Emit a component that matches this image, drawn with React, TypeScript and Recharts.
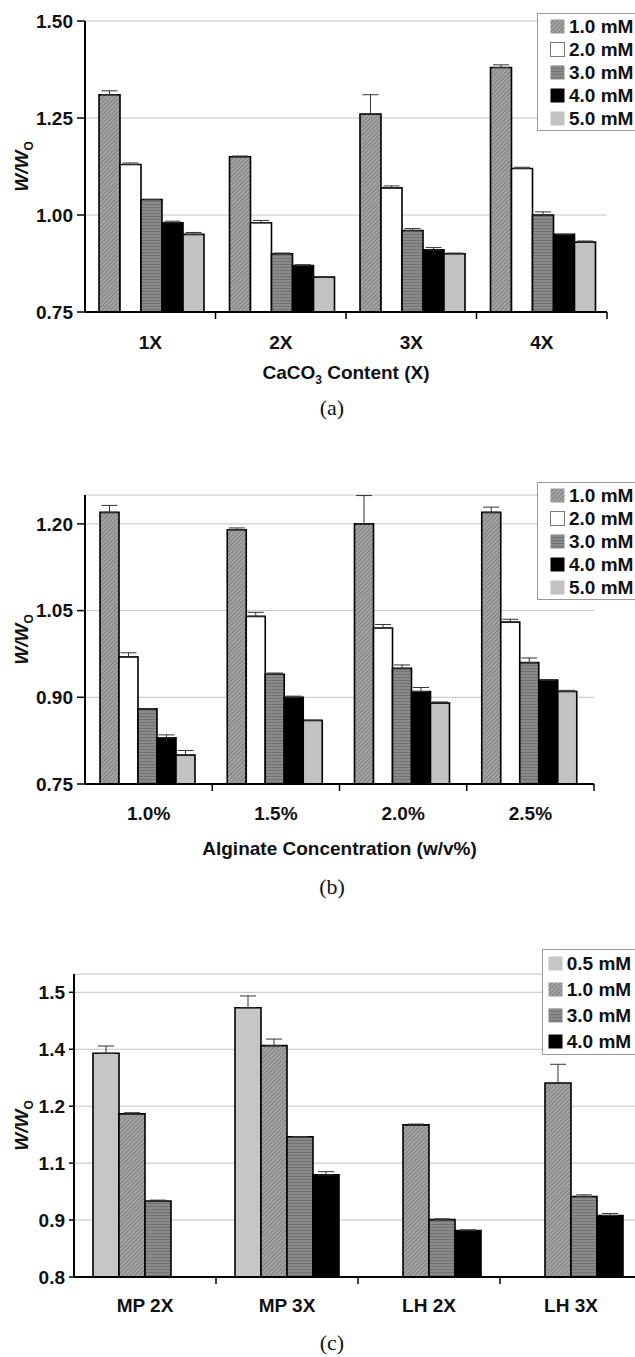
import React from "react";
import { BarChart, Bar, XAxis, YAxis, CartesianGrid, ErrorBar, Legend, Label } from "recharts";

const SANS = "Arial, 'Liberation Sans', Helvetica, sans-serif";
const SERIF = "'Times New Roman', 'Liberation Serif', Times, serif";

// ---- panel (a): CaCO3 content
const catsA = ["1X", "2X", "3X", "4X"];
const a10 = [1.31, 1.15, 1.26, 1.38];
const a10Err = [0.01, 0.002, 0.05, 0.007];
const a20 = [1.13, 0.98, 1.07, 1.12];
const a20Err = [0.004, 0.006, 0.005, 0.003];
const a30 = [1.04, 0.9, 0.96, 1.0];
const a30Err = [0, 0.002, 0.005, 0.008];
const a40 = [0.98, 0.87, 0.91, 0.95];
const a40Err = [0.004, 0.002, 0.006, 0];
const a50 = [0.95, 0.84, 0.9, 0.93];
const a50Err = [0.005, 0, 0.002, 0.003];
const ticksA = [0.75, 1.0, 1.25, 1.5];

// ---- panel (b): alginate concentration
const catsB = ["1.0%", "1.5%", "2.0%", "2.5%"];
const b10 = [1.22, 1.19, 1.2, 1.22];
const b10Err = [0.012, 0.003, 0.049, 0.009];
const b20 = [0.97, 1.04, 1.02, 1.03];
const b20Err = [0.007, 0.007, 0.006, 0.005];
const b30 = [0.88, 0.94, 0.95, 0.96];
const b30Err = [0, 0.002, 0.006, 0.008];
const b40 = [0.83, 0.9, 0.91, 0.93];
const b40Err = [0.005, 0.002, 0.007, 0];
const b50 = [0.8, 0.86, 0.89, 0.91];
const b50Err = [0.008, 0, 0.002, 0.002];
const ticksB = [0.75, 0.9, 1.05, 1.2];

// ---- panel (c): alginate source
const catsC = ["MP 2X", "MP 3X", "LH 2X", "LH 3X"];
const c05 = [1.35, 1.462, null, null];
const c05Err = [0.018, 0.029, null, null];
const c10 = [1.201, 1.369, 1.174, 1.277];
const c10Err = [0.003, 0.016, 0.002, 0.046];
const c30 = [0.987, 1.145, 0.941, 0.998];
const c30Err = [0.002, 0, 0.002, 0.004];
const c40 = [null, 1.051, 0.914, 0.951];
const c40Err = [null, 0.008, 0.002, 0.005];
const ticksC = [0.8, 0.94, 1.08, 1.22, 1.36, 1.5];

type Series = {
  key: string;
  name: string;
  fill: string;
  values: (number | null)[];
  errs: (number | null)[];
};

const HATCH = "url(#hatch10)";
const STRIPE = "url(#stripe30)";

const seriesA: Series[] = [
  { key: "s10", name: "1.0 mM", fill: HATCH, values: a10, errs: a10Err },
  { key: "s20", name: "2.0 mM", fill: "#ffffff", values: a20, errs: a20Err },
  { key: "s30", name: "3.0 mM", fill: STRIPE, values: a30, errs: a30Err },
  { key: "s40", name: "4.0 mM", fill: "#000000", values: a40, errs: a40Err },
  { key: "s50", name: "5.0 mM", fill: "#c2c2c2", values: a50, errs: a50Err },
];
const seriesB: Series[] = [
  { key: "s10", name: "1.0 mM", fill: HATCH, values: b10, errs: b10Err },
  { key: "s20", name: "2.0 mM", fill: "#ffffff", values: b20, errs: b20Err },
  { key: "s30", name: "3.0 mM", fill: STRIPE, values: b30, errs: b30Err },
  { key: "s40", name: "4.0 mM", fill: "#000000", values: b40, errs: b40Err },
  { key: "s50", name: "5.0 mM", fill: "#c2c2c2", values: b50, errs: b50Err },
];
const seriesC: Series[] = [
  { key: "s05", name: "0.5 mM", fill: "#c6c6c6", values: c05, errs: c05Err },
  { key: "s10", name: "1.0 mM", fill: HATCH, values: c10, errs: c10Err },
  { key: "s30", name: "3.0 mM", fill: STRIPE, values: c30, errs: c30Err },
  { key: "s40", name: "4.0 mM", fill: "#000000", values: c40, errs: c40Err },
];

function buildRows(cats: string[], series: Series[]) {
  return cats.map((c, i) => {
    const row: any = { cat: c };
    series.forEach((s) => {
      const v = s.values[i];
      row[s.key] = v;
      row[s.key + "Err"] = v == null ? null : [0, s.errs[i] ?? 0];
    });
    return row;
  });
}

function BoxLegend({ series, rowH, padLeft, padTop }: any) {
  return (
    <div
      style={{
        background: "#fff",
        border: "1px solid #9a9a9a",
        width: 110,
        paddingLeft: padLeft,
        paddingTop: padTop,
        boxSizing: "border-box",
        fontFamily: SANS,
      }}
    >
      {series.map((s: Series) => (
        <div key={s.key} style={{ display: "flex", alignItems: "center", height: rowH }}>
          <svg width={15} height={15} style={{ display: "block" }}>
            <rect x={0.5} y={0.5} width={14} height={14} fill={s.fill} stroke={s.fill === "#ffffff" ? "#777" : "none"} strokeWidth={1} />
          </svg>
          <span style={{ marginLeft: 4, fontSize: 19, fontWeight: 700, color: "#111", lineHeight: 1 }}>{s.name}</span>
        </div>
      ))}
    </div>
  );
}

type PanelProps = {
  top: number;
  width: number;
  height: number;
  margin: { top: number; right: number; left: number; bottom: number };
  yWidth: number;
  xHeight: number;
  cats: string[];
  series: Series[];
  ticks: number[];
  domain: [number, number];
  digits: number;
  gap: number;
  yTick: number;
  labelDy: number;
  title?: React.ReactNode;
  titleDy?: number;
  legend: { left: number; top: number; rowH: number; padLeft: number; padTop: number };
};

function Panel(p: PanelProps) {
  const rows = buildRows(p.cats, p.series);

  const CatTick = (props: any) => {
    const { x, y, payload } = props;
    const half = payload.offset ?? 0;
    return (
      <g>
        <line x1={x + half} x2={x + half} y1={y} y2={y + 7} stroke="#000" strokeWidth={1.5} />
        <text x={x} y={y + p.labelDy} dy="0.35em" textAnchor="middle" fontFamily={SANS} fontSize={19} fontWeight={700} fill="#111">
          {payload.value}
        </text>
      </g>
    );
  };

  const yLabel = (props: any) => {
    const vb = props.viewBox;
    const cy = vb.y + vb.height / 2;
    return (
      <text transform={`translate(28,${cy}) rotate(-90)`} textAnchor="middle" fontFamily={SANS} fontSize={19} fontWeight={700} fontStyle="italic" fill="#111">
        W/W
        <tspan fontSize={12} dy={5} fontStyle="normal">O</tspan>
      </text>
    );
  };

  const xTitle = (props: any) => {
    const vb = props.viewBox;
    return (
      <text x={vb.x + vb.width / 2} y={vb.y + (p.titleDy ?? 0)} dy="0.35em" textAnchor="middle" fontFamily={SANS} fontSize={19} fontWeight={700} fill="#111">
        {p.title}
      </text>
    );
  };

  return (
    <div style={{ position: "absolute", left: 0, top: p.top }}>
      <BarChart width={p.width} height={p.height} data={rows} margin={p.margin} barGap={0} barCategoryGap={p.gap}>
        <CartesianGrid vertical={false} stroke="#c4c4c4" strokeWidth={1} />
        <XAxis
          dataKey="cat"
          height={p.xHeight}
          axisLine={{ stroke: "#000", strokeWidth: 2 }}
          tickLine={false}
          tickSize={0}
          tickMargin={0}
          interval={0}
          tick={<CatTick />}
        >
          {p.title ? <Label content={xTitle} /> : null}
        </XAxis>
        <YAxis
          width={p.yWidth}
          type="number"
          domain={p.domain}
          ticks={p.ticks}
          interval={0}
          allowDataOverflow
          tickFormatter={(v: number) => v.toFixed(p.digits)}
          axisLine={{ stroke: "#000", strokeWidth: 2 }}
          tickLine={{ stroke: "#000", strokeWidth: 1.5 }}
          tickSize={p.yTick}
          tickMargin={4}
          tick={{ fontFamily: SANS, fontSize: 19, fontWeight: 700, fill: "#111" }}
        >
          <Label content={yLabel} />
        </YAxis>
        <Legend
          layout="vertical"
          align="center"
          verticalAlign="middle"
          wrapperStyle={{ left: p.legend.left, top: p.legend.top, width: 110 }}
          content={() => (
            <BoxLegend series={p.series} rowH={p.legend.rowH} padLeft={p.legend.padLeft} padTop={p.legend.padTop} />
          )}
        />
        {p.series.map((s) => (
          <Bar key={s.key} dataKey={s.key} name={s.name} fill={s.fill} stroke="#000" strokeWidth={1.6} isAnimationActive={false}>
            <ErrorBar dataKey={s.key + "Err"} direction="y" width={8} stroke="#333" strokeWidth={1} />
          </Bar>
        ))}
      </BarChart>
    </div>
  );
}

function Caption({ text, y }: { text: string; y: number }) {
  return (
    <div
      style={{
        position: "absolute",
        left: 282,
        width: 100,
        top: y - 11,
        height: 22,
        lineHeight: "22px",
        textAlign: "center",
        fontFamily: SERIF,
        fontSize: 22,
        color: "#111",
      }}
    >
      {text}
    </div>
  );
}

export default function App() {
  return (
    <div style={{ position: "fixed", left: 0, top: 0, width: 635, height: 1357, overflow: "hidden", background: "#fff" }}>
      <svg width={0} height={0} style={{ position: "absolute" }}>
        <defs>
          <pattern id="hatch10" width={3} height={3} patternUnits="userSpaceOnUse" patternTransform="rotate(45)">
            <rect width={3} height={3} fill="#a4a4a4" />
            <line x1={0.5} y1={0} x2={0.5} y2={3} stroke="#808080" strokeWidth={1.1} />
          </pattern>
          <pattern id="stripe30" width={4} height={3} patternUnits="userSpaceOnUse">
            <rect width={4} height={3} fill="#8a8a8a" />
            <line x1={0} y1={0.5} x2={4} y2={0.5} stroke="#737373" strokeWidth={1} />
          </pattern>
        </defs>
      </svg>

      <Panel
        top={0}
        width={635}
        height={390}
        margin={{ top: 21, right: 28, left: 0, bottom: 0 }}
        yWidth={85}
        xHeight={78}
        cats={catsA}
        series={seriesA}
        ticks={ticksA}
        domain={[0.75, 1.5]}
        digits={2}
        gap={14}
        yTick={8}
        labelDy={30}
        titleDy={60}
        title={
          <>
            CaCO
            <tspan fontSize={12} dy={5}>3</tspan>
            <tspan dy={-5}> Content (X)</tspan>
          </>
        }
        legend={{ left: 537, top: 12.7, rowH: 23, padLeft: 12, padTop: 1.5 }}
      />
      <Caption text="(a)" y={408} />

      <Panel
        top={440}
        width={635}
        height={430}
        margin={{ top: 55, right: 41, left: 0, bottom: 0 }}
        yWidth={85}
        xHeight={86}
        cats={catsB}
        series={seriesB}
        ticks={ticksB}
        domain={[0.75, 1.25]}
        digits={2}
        gap={15}
        yTick={8}
        labelDy={29}
        titleDy={64}
        title="Alginate Concentration (w/v%)"
        legend={{ left: 537, top: 41.7, rowH: 23, padLeft: 12, padTop: 1.5 }}
      />
      <Caption text="(b)" y={887} />

      <Panel
        top={930}
        width={662}
        height={390}
        margin={{ top: 44, right: 20, left: 0, bottom: 0 }}
        yWidth={74}
        xHeight={43}
        cats={catsC}
        series={seriesC}
        ticks={ticksC}
        domain={[0.8, 1.545]}
        digits={1}
        gap={19}
        yTick={5}
        labelDy={28}
        legend={{ left: 541.7, top: 19.3, rowH: 26, padLeft: 5, padTop: 0 }}
      />
      <Caption text="(c)" y={1343} />
    </div>
  );
}
